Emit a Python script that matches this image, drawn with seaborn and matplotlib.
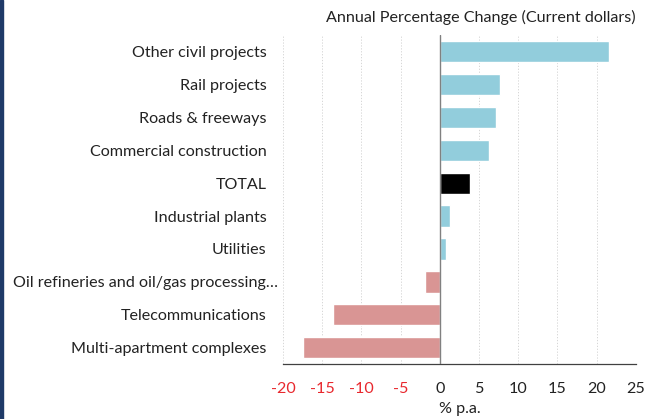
import matplotlib
matplotlib.use("Agg")
import matplotlib.pyplot as plt
import matplotlib.transforms as mtransforms
import seaborn as sns
import pandas as pd
from matplotlib.patches import Rectangle

categories = ["Other civil projects", "Rail projects", "Roads & freeways",
              "Commercial construction", "TOTAL", "Industrial plants", "Utilities",
              "Oil refineries and oil/gas processing\u2026", "Telecommunications",
              "Multi-apartment complexes"]
values = [21.6, 7.7, 7.2, 6.3, 3.8, 1.25, 0.75, -1.9, -13.6, -17.5]
xticks = [-20, -15, -10, -5, 0, 5, 10, 15, 20, 25]

BLUE = "#92CDDC"
RED = "#D99594"
colors = {}
for c, v in zip(categories, values):
    if c == "TOTAL":
        colors[c] = "#000000"
    elif v >= 0:
        colors[c] = BLUE
    else:
        colors[c] = RED

df = pd.DataFrame({"category": categories, "value": values})

sns.set_style("white")
plt.rcParams['font.family'] = ['Lato', 'DejaVu Sans']
FS = 11.6

fig = plt.figure(figsize=(6.52, 4.19), dpi=100)
ax = fig.add_axes([0.434, 0.131, 0.541, 0.785])

sns.barplot(data=df, y="category", x="value", hue="category", palette=colors,
            order=categories, hue_order=categories, orient="h", width=0.65,
            legend=False, ax=ax, saturation=1)

ax.set_xlim(-20, 25)
ax.set_xticks(xticks)
ax.set_xticklabels([str(t) for t in xticks], fontsize=FS)
for lbl, t in zip(ax.get_xticklabels(), xticks):
    lbl.set_color("#E8282E" if t < 0 else "#222222")
ax.set_ylim(len(categories) - 0.5, -0.5)

ax.grid(axis="x", color="#D0D0D0", linestyle=(0, (1.5, 2)), linewidth=0.6)
ax.set_axisbelow(True)
ax.axvline(0, color="#808080", linewidth=1.0, zorder=3)

for s in ["top", "right", "left"]:
    ax.spines[s].set_visible(False)
ax.spines["bottom"].set_color("#404040")
ax.spines["bottom"].set_linewidth(0.9)
ax.tick_params(axis="x", direction="in", length=5, color="#404040", pad=13)
ax.tick_params(axis="y", length=0, pad=12, labelsize=FS, labelcolor="#222222")

# the truncated label sits a little further right, as in the original
shift = mtransforms.ScaledTranslation(12 / 100, 0, fig.dpi_scale_trans)
for lbl in ax.get_yticklabels():
    if lbl.get_text().startswith("Oil"):
        lbl.set_transform(lbl.get_transform() + shift)

ax.set_ylabel("")
ax.set_xlabel("% p.a.", fontsize=FS, color="#222222", labelpad=4)

fig.text(0.975, 0.958, "Annual Percentage Change (Current dollars)", ha="right",
         va="center", fontsize=FS, color="#222222")

fig.patches.append(Rectangle((0, 0), 0.004, 1, transform=fig.transFigure,
                             color="#1F3A68", zorder=10))

fig.savefig("out.png", dpi=100)
